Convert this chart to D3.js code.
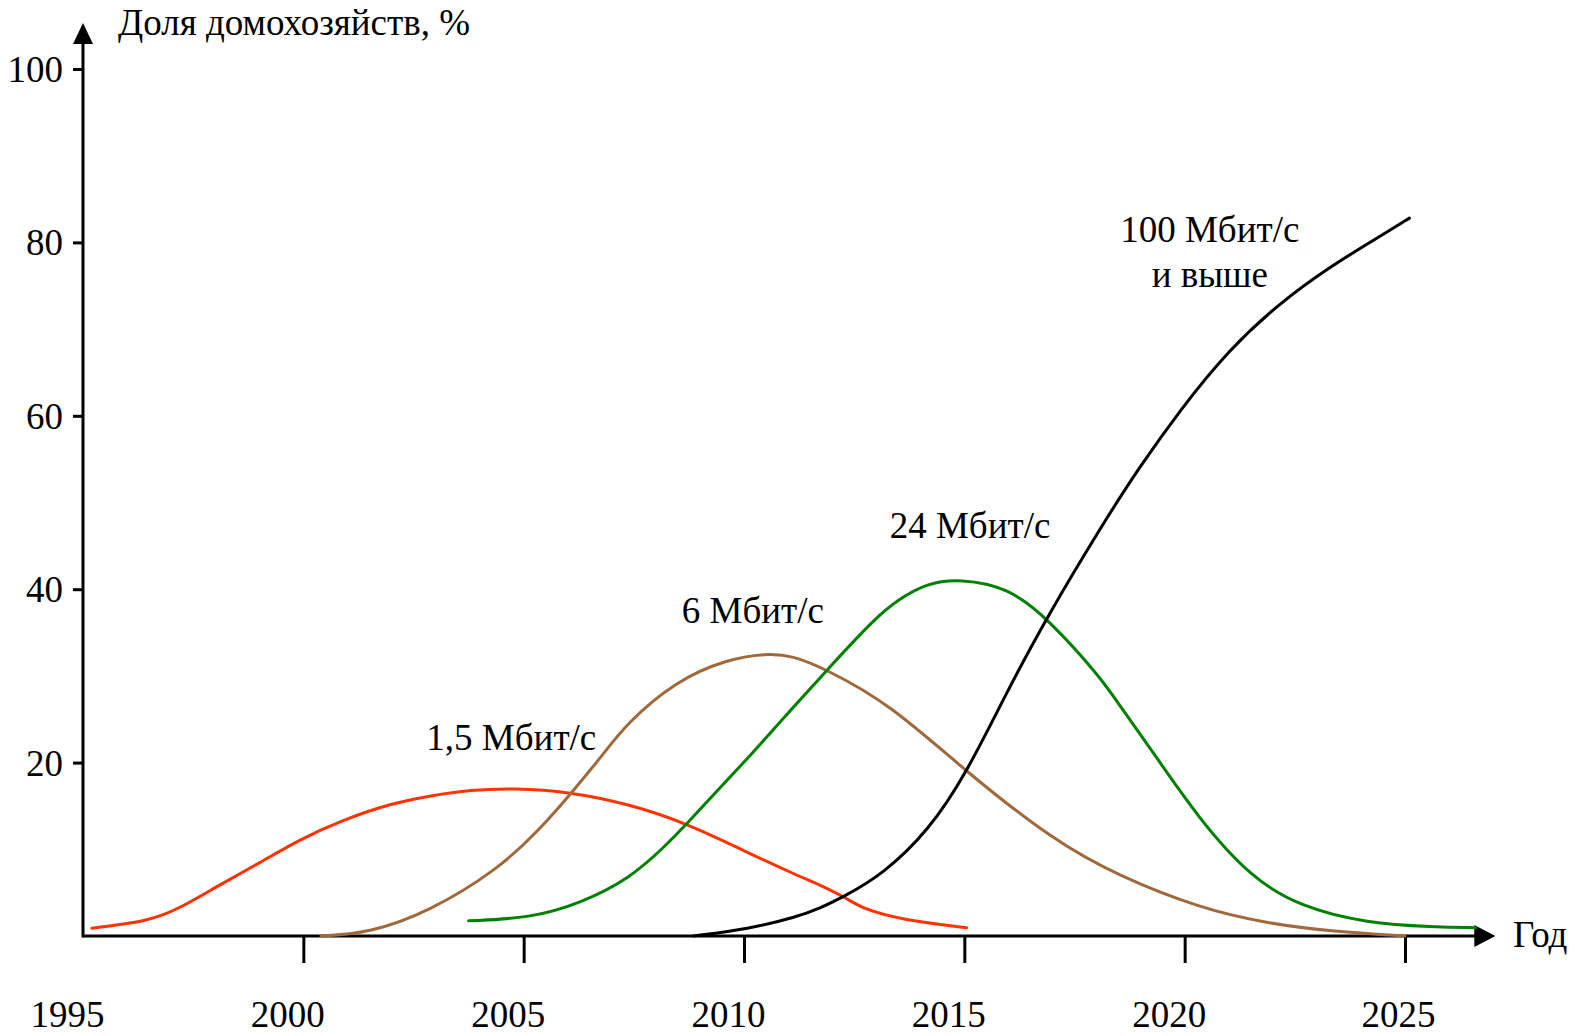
<!DOCTYPE html>
<html>
<head>
<meta charset="utf-8">
<script src="https://cdn.jsdelivr.net/npm/d3@7"></script>
<style>
  body { margin: 0; background: #fff; }
  text { font-family: "Liberation Serif", "Times New Roman", serif; fill: #000; }
</style>
</head>
<body>
<script>
// 1,5 Мбит/с
var years15 = [1995.2, 1996.5, 1997.2, 1998.1, 1999.0, 1999.9, 2000.9, 2002.0, 2002.9, 2003.8, 2004.75, 2006.05, 2007.4, 2008.7, 2010.05, 2011.2, 2011.72, 2012.3, 2012.7, 2013.6, 2015.05];
var share15 = [0.9, 1.7, 3.2, 5.9, 8.4, 11.1, 13.4, 15.3, 16.2, 16.85, 17.05, 16.65, 15.2, 13.0, 9.7, 7.0, 5.9, 4.45, 3.1, 1.85, 0.95];

// 6 Мбит/с
var years6 = [2000.4, 2001.5, 2002.85, 2004.4, 2005.35, 2006.1, 2006.75, 2007.35, 2008.45, 2009.6, 2010.5, 2011.1, 2011.85, 2013.3, 2015.05, 2017.0, 2018.5, 2020.35, 2021.85, 2023.4, 2025.0];
var share6 = [0, 0.35, 2.8, 7.6, 12.2, 16.6, 20.6, 24.6, 29.4, 31.9, 32.6, 32.35, 30.8, 26.8, 18.9, 11.1, 6.9, 3.2, 1.45, 0.5, 0];

// 24 Мбит/с
var years24 = [2003.75, 2005.15, 2006.3, 2007.4, 2008.2, 2008.7, 2009.45, 2010.05, 2010.45, 2011.12, 2011.85, 2013.0, 2013.5, 2014.15, 2014.9, 2016.0, 2016.9, 2018.1, 2018.55, 2019.2, 2020.35, 2021.5, 2022.6, 2024.15, 2025.65, 2026.6];
var share24 = [1.75, 2.05, 3.8, 6.6, 10.3, 12.9, 17.1, 20.3, 22.6, 26.4, 30.5, 36.8, 38.8, 40.7, 41.2, 40.2, 36.6, 29.8, 26.4, 21.8, 13.3, 6.8, 3.4, 1.45, 1.05, 0.95];

// 100 Мбит/с и выше
var years100 = [2008.85, 2010.1, 2011.2, 2011.72, 2012.25, 2013.15, 2014.2, 2015.05, 2015.95, 2016.85, 2018.2, 2018.95, 2019.9, 2021.0, 2022.15, 2023.3, 2024.3, 2025.1];
var share100 = [0, 0.8, 2.2, 3.2, 4.5, 7.1, 12.2, 18.8, 28.0, 36.6, 48.0, 53.9, 60.7, 67.6, 73.0, 77.2, 80.3, 82.8];

var seriesNames = ["1,5 Мбит/с", "6 Мбит/с", "24 Мбит/с", "100 Мбит/с"];
var seriesColors = ["#ff3300", "#a0693c", "#008000", "#000000"];

var xTickYears = [1995, 2000, 2005, 2010, 2015, 2020, 2025];
var yTickValues = [20, 40, 60, 80, 100];

var w = 1587;
var h = 1036;
var fontSize = 37;

var svg = d3.select("body").append("svg")
  .attr("width", w)
  .attr("height", h);

var x = d3.scaleLinear().domain([1995, 2025]).range([83, 1405]);
var y = d3.scaleLinear().domain([0, 100]).range([936, 69]);

// axis lines with arrow heads
var xEnd = 2027.05;   // arrow tip on the year axis
var yEnd = 105.3;     // arrow tip on the share axis

svg.append("line")
  .attr("x1", x(1995)).attr("y1", y(0))
  .attr("x2", x(xEnd) - 18).attr("y2", y(0))
  .attr("stroke", "#000").attr("stroke-width", 3);

svg.append("path")
  .attr("d", "M" + x(xEnd) + "," + y(0) + "L" + (x(xEnd) - 21) + "," + (y(0) - 11) + "L" + (x(xEnd) - 21) + "," + (y(0) + 11) + "Z")
  .attr("fill", "#000");

svg.append("line")
  .attr("x1", x(1995)).attr("y1", y(0) + 1.5)
  .attr("x2", x(1995)).attr("y2", y(yEnd) + 18)
  .attr("stroke", "#000").attr("stroke-width", 3);

svg.append("path")
  .attr("d", "M" + x(1995) + "," + y(yEnd) + "L" + (x(1995) - 10) + "," + (y(yEnd) + 21) + "L" + (x(1995) + 10) + "," + (y(yEnd) + 21) + "Z")
  .attr("fill", "#000");

// x ticks and labels
var xAxis = svg.append("g")
  .attr("transform", "translate(0," + y(0) + ")")
  .call(d3.axisBottom(x).tickValues(xTickYears).tickSize(27).tickFormat(d3.format("d")));

xAxis.select(".domain").remove();
xAxis.selectAll(".tick line")
  .attr("stroke", "#000")
  .attr("stroke-width", 3)
  .attr("display", function(d) { return d === 1995 ? "none" : null; });
xAxis.selectAll(".tick text")
  .attr("y", 91)
  .attr("dy", null)
  .attr("x", function(d) { return d === 2025 ? -7 : -16; })
  .style("font-size", fontSize + "px")
  .style("font-family", "'Liberation Serif', 'Times New Roman', serif")
  .attr("fill", "#000");

// y ticks and labels
var yAxis = svg.append("g")
  .attr("transform", "translate(" + x(1995) + ",0)")
  .call(d3.axisLeft(y).tickValues(yTickValues).tickSize(10).tickPadding(10));

yAxis.select(".domain").remove();
yAxis.selectAll(".tick line")
  .attr("stroke", "#000")
  .attr("stroke-width", 3);
yAxis.selectAll(".tick text")
  .attr("dy", "0.34em")
  .style("font-size", fontSize + "px")
  .style("font-family", "'Liberation Serif', 'Times New Roman', serif")
  .attr("fill", "#000");

// axis titles
svg.append("text")
  .attr("x", 118)
  .attr("y", 35)
  .style("font-size", fontSize + "px")
  .text("Доля домохозяйств, %");

svg.append("text")
  .attr("x", 1513)
  .attr("y", y(0) + 11)
  .style("font-size", fontSize + "px")
  .text("Год");

// curves
var allSeries = [
  { years: years15, share: share15 },
  { years: years6, share: share6 },
  { years: years24, share: share24 },
  { years: years100, share: share100 }
];

var line = d3.line()
  .x(function(d) { return x(d[0]); })
  .y(function(d) { return y(d[1]); })
  .curve(d3.curveBasis);

svg.selectAll("path.curve")
  .data(allSeries)
  .enter()
  .append("path")
  .attr("class", "curve")
  .attr("d", function(s) { return line(d3.zip(s.years, s.share)); })
  .attr("fill", "none")
  .attr("stroke", function(d, i) { return seriesColors[i]; })
  .attr("stroke-width", 3)
  .attr("stroke-linecap", "round");

// curve labels: centre year and share at the text baseline
var labelYears = [2004.72, 2010.2, 2015.13, 2020.57];
var labelShares = [21.4, 36.1, 45.9, 80.1];

svg.selectAll("text.label")
  .data(seriesNames)
  .enter()
  .append("text")
  .attr("class", "label")
  .attr("x", function(d, i) { return x(labelYears[i]); })
  .attr("y", function(d, i) { return y(labelShares[i]); })
  .attr("text-anchor", "middle")
  .style("font-size", fontSize + "px")
  .text(function(d) { return d; });

svg.append("text")
  .attr("x", x(labelYears[3]))
  .attr("y", y(labelShares[3]) + 45)
  .attr("text-anchor", "middle")
  .style("font-size", fontSize + "px")
  .text("и выше");
</script>
</body>
</html>
